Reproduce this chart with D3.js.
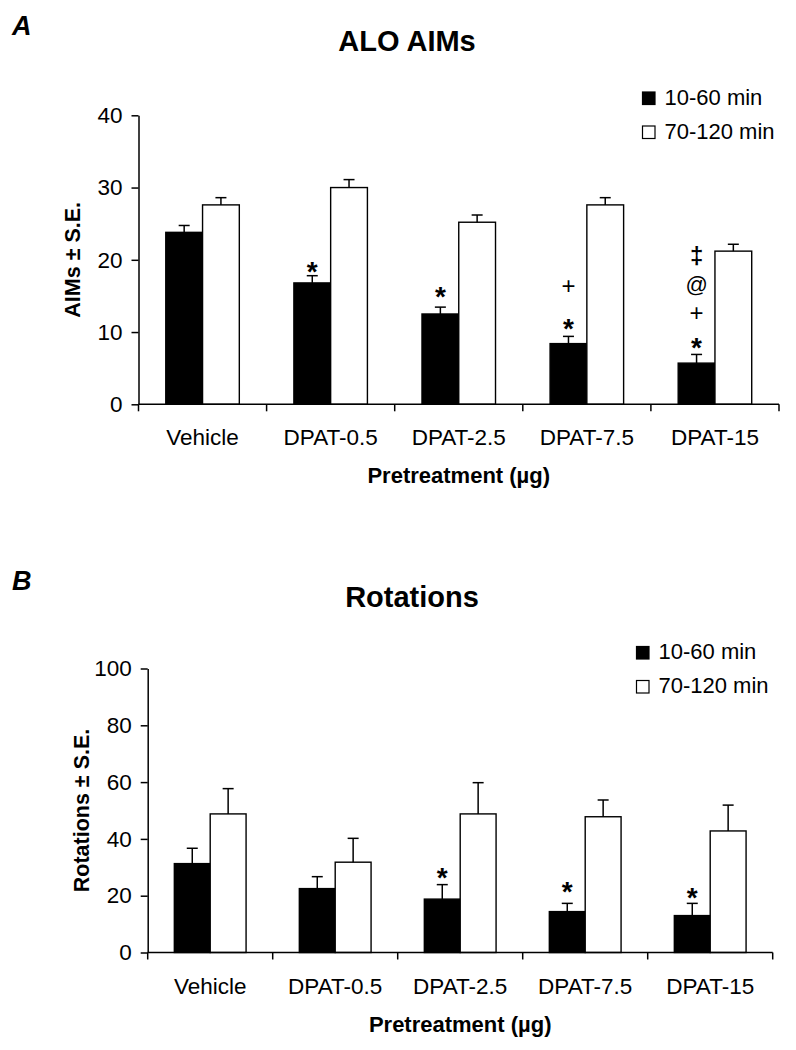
<!DOCTYPE html>
<html>
<head>
<meta charset="utf-8">
<script src="https://cdn.jsdelivr.net/npm/d3@7"></script>
<style>
  body { margin: 0; background: #fff; }
  svg text { font-family: "Liberation Sans", Arial, sans-serif; fill: #000; }
</style>
</head>
<body>
<div id="chart"></div>
<script>
const width = 796;
const height = 1050;

const categories = ["Vehicle", "DPAT-0.5", "DPAT-2.5", "DPAT-7.5", "DPAT-15"];
const series = ["10-60 min", "70-120 min"];

// panel A: ALO AIMs
const aimsEarly = [23.8, 16.8, 12.5, 8.4, 5.7];
const aimsEarlySE = [0.95, 1.0, 0.95, 1.0, 1.2];
const aimsLate = [27.6, 30.0, 25.2, 27.6, 21.2];
const aimsLateSE = [1.0, 1.1, 1.0, 1.0, 0.95];
const aimsTicks = [0, 10, 20, 30, 40];
// significance marks over the 10-60 min bars: [category, symbol, value at glyph centre]
const aimsMarks = [
  ["DPAT-0.5", "*", 19.3],
  ["DPAT-2.5", "*", 15.9],
  ["DPAT-7.5", "*", 11.4],
  ["DPAT-7.5", "+", 16.4],
  ["DPAT-15", "*", 8.8],
  ["DPAT-15", "+", 12.7],
  ["DPAT-15", "@", 16.3],
  ["DPAT-15", "‡", 20.4]
];

// panel B: Rotations
const rotEarly = [31.3, 22.5, 18.8, 14.4, 13.0];
const rotEarlySE = [5.4, 4.2, 5.1, 2.9, 4.3];
const rotLate = [48.8, 31.8, 48.8, 47.8, 42.8];
const rotLateSE = [8.9, 8.4, 11.0, 5.9, 9.1];
const rotTicks = [0, 20, 40, 60, 80, 100];
const rotMarks = [
  ["DPAT-2.5", "*", 28.9],
  ["DPAT-7.5", "*", 23.7],
  ["DPAT-15", "*", 21.8]
];

// how each symbol is set: size, weight, shift from centre to baseline (em)
const markStyle = {
  "*": { size: 28, weight: "bold", dy: 0.58 },
  "+": { size: 24, weight: "normal", dy: 0.35 },
  "@": { size: 22, weight: "normal", dy: 0.27 },
  "‡": { size: 24, weight: "bold", dy: 0.29 }
};

const svg = d3.select("#chart")
  .append("svg")
    .attr("width", width)
    .attr("height", height);

function drawPanel(p) {
  const g = svg.append("g");

  const x = d3.scaleBand()
    .domain(categories)
    .range(p.xRange)
    .paddingInner(0)
    .paddingOuter(0);
  const bw = x.bandwidth();
  const xSub = d3.scaleBand()
    .domain(series)
    .range([bw * 0.213, bw * 0.787]);
  const y = d3.scaleLinear()
    .domain([0, d3.max(p.ticks)])
    .range(p.yRange);

  const rows = categories.map((c, i) => ({
    cat: c,
    vals: [
      { s: series[0], v: p.early[i], se: p.earlySE[i] },
      { s: series[1], v: p.late[i], se: p.lateSE[i] }
    ]
  }));

  // bars
  const grp = g.selectAll(".grp")
    .data(rows)
    .enter().append("g")
      .attr("transform", d => `translate(${x(d.cat)},0)`);

  grp.selectAll("rect")
    .data(d => d.vals)
    .enter().append("rect")
      .attr("x", d => xSub(d.s))
      .attr("y", d => y(d.v))
      .attr("width", xSub.bandwidth())
      .attr("height", d => y(0) - y(d.v))
      .attr("fill", d => d.s === series[0] ? "#000" : "#fff")
      .attr("stroke", "#000")
      .attr("stroke-width", 1.4);

  // upper error bars
  const eb = grp.selectAll(".err")
    .data(d => d.vals)
    .enter().append("g")
      .attr("stroke", "#000")
      .attr("stroke-width", 1.5);
  eb.append("line")
    .attr("x1", d => xSub(d.s) + xSub.bandwidth() / 2)
    .attr("x2", d => xSub(d.s) + xSub.bandwidth() / 2)
    .attr("y1", d => y(d.v))
    .attr("y2", d => y(d.v + d.se));
  eb.append("line")
    .attr("x1", d => xSub(d.s) + xSub.bandwidth() / 2 - 5.5)
    .attr("x2", d => xSub(d.s) + xSub.bandwidth() / 2 + 5.5)
    .attr("y1", d => y(d.v + d.se))
    .attr("y2", d => y(d.v + d.se));

  // significance marks
  g.selectAll(".mark")
    .data(p.marks)
    .enter().append("text")
      .attr("x", d => x(d[0]) + xSub(series[0]) + xSub.bandwidth() / 2)
      .attr("y", d => y(d[2]))
      .attr("dy", d => markStyle[d[1]].dy + "em")
      .attr("text-anchor", "middle")
      .style("font-size", d => markStyle[d[1]].size + "px")
      .style("font-weight", d => markStyle[d[1]].weight)
      .text(d => d[1]);

  // y axis
  const yAxis = g.append("g")
    .attr("transform", `translate(${p.xRange[0]},0)`)
    .call(d3.axisLeft(y).tickValues(p.ticks).tickSize(7).tickSizeOuter(0).tickPadding(9));
  yAxis.selectAll("path, line").attr("stroke", "#000").attr("stroke-width", 1.5);
  yAxis.selectAll("text").style("font-size", "22.5px").attr("fill", "#000");

  // x axis: line, boundary ticks, centred labels
  const bounds = categories.map(c => x(c)).concat([p.xRange[1]]);
  g.append("line")
    .attr("x1", p.xRange[0]).attr("x2", p.xRange[1])
    .attr("y1", y(0)).attr("y2", y(0))
    .attr("stroke", "#000").attr("stroke-width", 1.5);
  g.selectAll(".xtick")
    .data(bounds)
    .enter().append("line")
      .attr("x1", d => d).attr("x2", d => d)
      .attr("y1", y(0)).attr("y2", y(0) + 7)
      .attr("stroke", "#000").attr("stroke-width", 1.5);
  g.selectAll(".xlab")
    .data(categories)
    .enter().append("text")
      .attr("x", d => x(d) + bw / 2)
      .attr("y", y(0) + 41)
      .attr("text-anchor", "middle")
      .style("font-size", "22.5px")
      .text(d => d);

  // axis titles
  g.append("text")
    .attr("x", (p.xRange[0] + p.xRange[1]) / 2)
    .attr("y", y(0) + 79)
    .attr("text-anchor", "middle")
    .style("font-size", "22px")
    .style("font-weight", "bold")
    .text("Pretreatment (µg)");
  g.append("text")
    .attr("transform", `translate(${p.xRange[0] - 59},${(p.yRange[0] + p.yRange[1]) / 2}) rotate(-90)`)
    .attr("text-anchor", "middle")
    .style("font-size", "21.5px")
    .style("font-weight", "bold")
    .text(p.yLabel);

  // title and panel letter
  g.append("text")
    .attr("x", p.titleX)
    .attr("y", p.titleY)
    .attr("text-anchor", "middle")
    .style("font-size", "29px")
    .style("font-weight", "bold")
    .text(p.title);
  g.append("text")
    .attr("x", 12)
    .attr("y", p.letterY)
    .style("font-size", "27px")
    .style("font-weight", "bold")
    .style("font-style", "italic")
    .text(p.letter);

  // legend
  const leg = g.selectAll(".leg")
    .data(series)
    .enter().append("g")
      .attr("transform", (d, i) => `translate(${p.legX},${p.legY + i * 34})`);
  leg.append("rect")
    .attr("x", 0).attr("y", -12.5)
    .attr("width", 12.5).attr("height", 12.5)
    .attr("fill", (d, i) => i === 0 ? "#000" : "#fff")
    .attr("stroke", "#000")
    .attr("stroke-width", 1.2);
  leg.append("text")
    .attr("x", 22)
    .attr("y", 0)
    .style("font-size", "22px")
    .text(d => d);
}

drawPanel({
  letter: "A", letterY: 35,
  title: "ALO AIMs", titleX: 407, titleY: 51,
  yLabel: "AIMs ± S.E.",
  xRange: [138.5, 779], yRange: [404.3, 115.3],
  ticks: aimsTicks,
  early: aimsEarly, earlySE: aimsEarlySE,
  late: aimsLate, lateSE: aimsLateSE,
  marks: aimsMarks,
  legX: 642.5, legY: 104.5
});

drawPanel({
  letter: "B", letterY: 590,
  title: "Rotations", titleX: 412, titleY: 607,
  yLabel: "Rotations ± S.E.",
  xRange: [147.7, 772.7], yRange: [952.5, 668.5],
  ticks: rotTicks,
  early: rotEarly, earlySE: rotEarlySE,
  late: rotLate, lateSE: rotLateSE,
  marks: rotMarks,
  legX: 636.5, legY: 659
});
</script>
</body>
</html>
